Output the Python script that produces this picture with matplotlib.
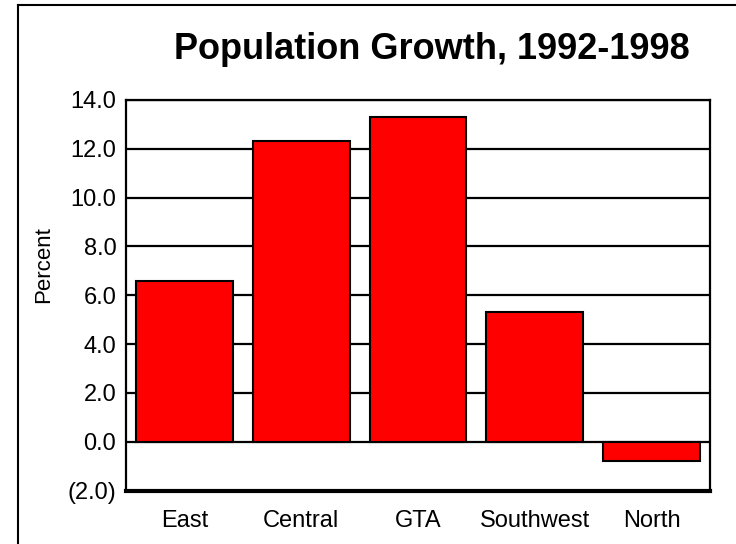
import matplotlib
matplotlib.use("Agg")
import matplotlib.pyplot as plt
from matplotlib.lines import Line2D
from matplotlib.ticker import FuncFormatter

plt.rcParams['font.family'] = ['Liberation Sans', 'DejaVu Sans']

regions = ["East", "Central", "GTA", "Southwest", "North"]
growth_pct = [6.6, 12.3, 13.3, 5.3, -0.8]
y_ticks = [-2, 0, 2, 4, 6, 8, 10, 12, 14]

fig = plt.figure(figsize=(7.36, 5.44), dpi=100)
ax = fig.add_axes([126 / 736, 1 - 490.5 / 544, (710 - 126) / 736, (490.5 - 100) / 544])

x = list(range(len(regions)))
ax.bar(x, growth_pct, width=0.83, color="#ff0000", edgecolor="black",
       linewidth=1.5, zorder=3)

ax.set_xlim(-0.5, len(regions) - 0.5)
ax.set_ylim(-2, 14)
ax.set_yticks(y_ticks)
ax.yaxis.set_major_formatter(FuncFormatter(
    lambda v, _: f"({abs(v):.1f})" if v < 0 else f"{v:.1f}"))
ax.set_xticks(x)
ax.set_xticklabels(regions)

ax.yaxis.grid(True, color="black", linewidth=1.6, zorder=0)
ax.set_axisbelow(True)
ax.tick_params(axis="both", length=0, labelsize=17, colors="black")
ax.tick_params(axis="y", pad=7)
ax.tick_params(axis="x", pad=14)

for side in ["left", "top", "right"]:
    ax.spines[side].set_linewidth(1.6)
ax.spines["bottom"].set_linewidth(3)

# y-axis caption, placed a little above the axes midpoint
fig.text(44 / 736, 1 - 265 / 544, "Percent", fontsize=16, rotation=90,
         ha="center", va="center")

fig.text(432 / 736, 1 - 59 / 544, "Population Growth, 1992-1998",
         fontsize=26, fontweight="bold", ha="center", va="baseline")

# outer frame around the chart area
fig.add_artist(Line2D([18 / 736, 18 / 736], [0, 1 - 5 / 544],
                      transform=fig.transFigure, color="black", linewidth=1.5))
fig.add_artist(Line2D([18 / 736, 1], [1 - 5 / 544, 1 - 5 / 544],
                      transform=fig.transFigure, color="black", linewidth=1.5))

fig.savefig("out.png", dpi=100)
